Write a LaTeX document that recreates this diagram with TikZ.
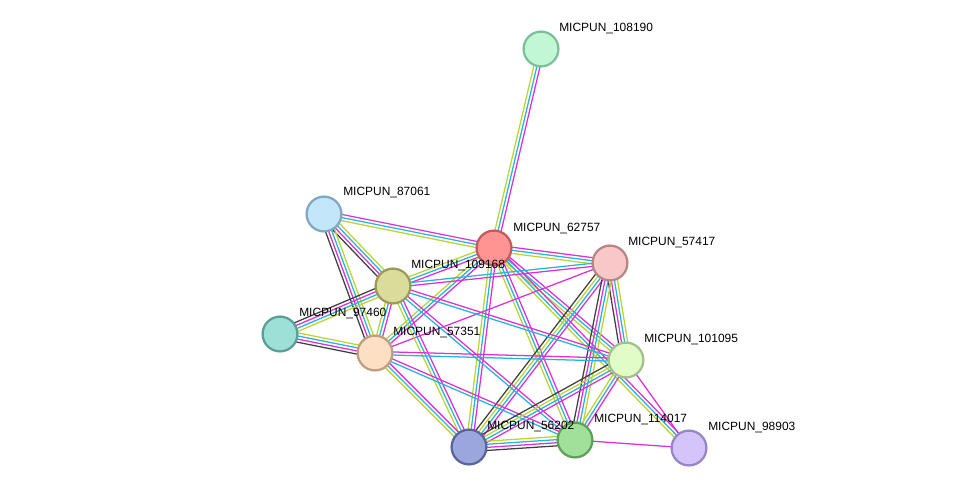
\documentclass[tikz,border=0pt]{standalone}
\usepackage{fontspec}
\setmainfont{Liberation Sans}
\usepackage{tikz}
\usetikzlibrary{calc}

\definecolor{tm}{HTML}{BCD431}
\definecolor{db}{HTML}{25B4DC}
\definecolor{ex}{HTML}{DC30DC}
\definecolor{co}{HTML}{404040}
\definecolor{f108190}{HTML}{C2F7D6}\definecolor{d108190}{HTML}{7DBF99}
\definecolor{f87061}{HTML}{C3E6FB}\definecolor{d87061}{HTML}{7FA8C4}
\definecolor{f62757}{HTML}{FF9493}\definecolor{d62757}{HTML}{C25B5B}
\definecolor{f57417}{HTML}{F8C8C8}\definecolor{d57417}{HTML}{B88585}
\definecolor{f109168}{HTML}{DCDC9A}\definecolor{d109168}{HTML}{9A9A5A}
\definecolor{f97460}{HTML}{9DE0D8}\definecolor{d97460}{HTML}{5A9E96}
\definecolor{f57351}{HTML}{FDE0C3}\definecolor{d57351}{HTML}{BB9F80}
\definecolor{f101095}{HTML}{E2FCC8}\definecolor{d101095}{HTML}{A3C08A}
\definecolor{f56202}{HTML}{9BA5DE}\definecolor{d56202}{HTML}{5A6499}
\definecolor{f114017}{HTML}{A0E09A}\definecolor{d114017}{HTML}{5DA057}
\definecolor{f98903}{HTML}{D4C4FA}\definecolor{d98903}{HTML}{9786C4}

\pgfdeclarelayer{bg}
\pgfsetlayers{bg,main}

% one STRING edge = a bundle of parallel lines, one per evidence colour
\newcommand{\stredge}[3]{%
  \foreach \c [count=\i] in {#3}{\xdef\nlines{\i}}%
  \foreach \c [count=\i] in {#3}{%
    \pgfmathsetmacro{\off}{(\i-(\nlines+1)/2)*2.2}%
    \draw[\c, line width=0.9pt] ($(#1.center)!\off pt!90:(#2.center)$) -- ($(#2.center)!\off pt!-90:(#1.center)$);
  }}

\begin{document}
\begin{tikzpicture}[line cap=round,line join=round,x=0.025cm,y=-0.025cm]
    \tikzset{prot/.style={circle, minimum size=0.87cm, inner sep=0pt, line width=1.6pt},
             lbl/.style={anchor=west, inner sep=0pt, font=\fontsize{8.5}{10}\selectfont}}
    \useasboundingbox (0,0) rectangle (975,494);
    % proteins
    \node[prot, fill=f108190, draw=d108190] (n108190) at (541,49) {};
    \node[prot, fill=f87061, draw=d87061] (n87061) at (324,214) {};
    \node[prot, fill=f62757, draw=d62757] (n62757) at (494,248) {};
    \node[prot, fill=f57417, draw=d57417] (n57417) at (610,263) {};
    \node[prot, fill=f109168, draw=d109168] (n109168) at (393,286) {};
    \node[prot, fill=f97460, draw=d97460] (n97460) at (280,334) {};
    \node[prot, fill=f57351, draw=d57351] (n57351) at (375,353) {};
    \node[prot, fill=f101095, draw=d101095] (n101095) at (626,360) {};
    \node[prot, fill=f56202, draw=d56202] (n56202) at (469,447) {};
    \node[prot, fill=f114017, draw=d114017] (n114017) at (575,440) {};
    \node[prot, fill=f98903, draw=d98903] (n98903) at (689,448) {};
    % interactions
    \begin{pgfonlayer}{bg}
        \stredge{n108190}{n62757}{tm,db,ex}
        \stredge{n87061}{n62757}{tm,db,ex}
        \stredge{n87061}{n109168}{co,ex,db,tm}
        \stredge{n87061}{n57351}{co,ex,db,tm}
        \stredge{n62757}{n57417}{tm,db,ex}
        \stredge{n62757}{n109168}{tm,db,ex}
        \stredge{n62757}{n57351}{tm,db,ex}
        \stredge{n62757}{n101095}{tm,db,ex}
        \stredge{n62757}{n56202}{tm,db,ex}
        \stredge{n62757}{n114017}{tm,db,ex}
        \stredge{n62757}{n98903}{tm,db,ex}
        \stredge{n57417}{n109168}{db,ex}
        \stredge{n57417}{n57351}{ex}
        \stredge{n57417}{n101095}{co,ex,db,tm}
        \stredge{n57417}{n56202}{co,tm,db,ex}
        \stredge{n57417}{n114017}{co,ex,db,tm}
        \stredge{n109168}{n97460}{co,ex,db,tm}
        \stredge{n109168}{n57351}{tm,db,ex}
        \stredge{n109168}{n101095}{db,ex}
        \stredge{n109168}{n56202}{tm,db,ex}
        \stredge{n109168}{n114017}{db,ex}
        \stredge{n97460}{n57351}{co,ex,db,tm}
        \stredge{n57351}{n101095}{db,ex}
        \stredge{n57351}{n56202}{tm,db,ex}
        \stredge{n57351}{n114017}{db,ex}
        \stredge{n101095}{n56202}{co,tm,db,ex}
        \stredge{n101095}{n114017}{tm,db,ex}
        \stredge{n101095}{n98903}{ex}
        \stredge{n56202}{n114017}{co,ex,db,tm}
        \stredge{n114017}{n98903}{ex}
    \end{pgfonlayer}
    % labels
    \node[lbl] (t108190) at ($(n108190)+(18,-20)$) {MICPUN\_108190};
    \node[lbl] (t87061) at ($(n87061)+(19,-21)$) {MICPUN\_87061};
    \node[lbl] (t62757) at ($(n62757)+(19,-19)$) {MICPUN\_62757};
    \node[lbl] (t57417) at ($(n57417)+(18,-20)$) {MICPUN\_57417};
    \node[lbl] (t109168) at ($(n109168)+(18,-20)$) {MICPUN\_109168};
    \node[lbl] (t97460) at ($(n97460)+(19,-20)$) {MICPUN\_97460};
    \node[lbl] (t57351) at ($(n57351)+(18,-20)$) {MICPUN\_57351};
    \node[lbl] (t101095) at ($(n101095)+(18,-20)$) {MICPUN\_101095};
    \node[lbl] (t56202) at ($(n56202)+(18,-20)$) {MICPUN\_56202};
    \node[lbl] (t114017) at ($(n114017)+(19,-20)$) {MICPUN\_114017};
    \node[lbl] (t98903) at ($(n98903)+(19,-20)$) {MICPUN\_98903};
\end{tikzpicture}
\end{document}
